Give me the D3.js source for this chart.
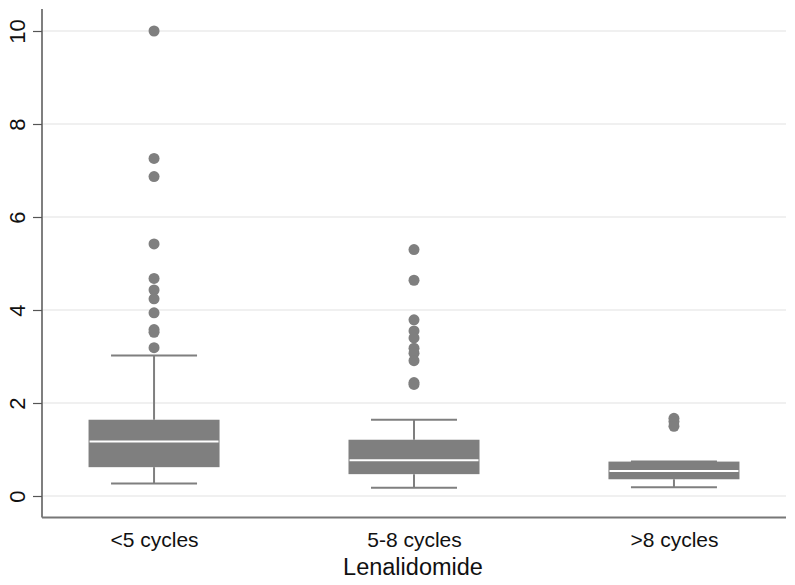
<!DOCTYPE html>
<html><head><meta charset="utf-8">
<script src="https://cdn.jsdelivr.net/npm/d3@7"></script>
<style>body{margin:0;background:#fff}svg{display:block}</style>
</head><body>
<svg id="c" width="795" height="585"></svg>
<script>
const categories = ["<5 cycles", "5-8 cycles", ">8 cycles"];
const whiskerLow = [0.27, 0.18, 0.19];
const q1 = [0.62, 0.47, 0.36];
const median = [1.17, 0.77, 0.54];
const q3 = [1.64, 1.21, 0.74];
const whiskerHigh = [3.02, 1.64, 0.74];
const outliers = [
  [10.0, 7.26, 6.87, 5.42, 4.68, 4.43, 4.24, 3.94, 3.58, 3.52, 3.19],
  [5.30, 4.64, 3.79, 3.55, 3.40, 3.18, 3.07, 2.91, 2.44, 2.40],
  [1.67, 1.60, 1.50]
];
const yTicks = [0, 2, 4, 6, 8, 10];
const xTitle = "Lenalidomide";

const svg = d3.select("#c");
const mLeft = 42, mRight = 786, mTop = 5, mBottom = 517.5;
const y = d3.scaleLinear().domain([0, 10]).range([496, 31]);
const x = d3.scalePoint().domain(categories).range([mLeft, mRight]).padding(0.431);
const boxW = 131, capW = 86;
const grey = "#7f7f7f";
const font = "'Liberation Sans', Arial, sans-serif";

// gridlines
svg.append("g").selectAll("line").data(yTicks).join("line")
  .attr("x1", mLeft + 1).attr("x2", mRight)
  .attr("y1", d => y(d)).attr("y2", d => y(d))
  .attr("stroke", "#ebebeb").attr("stroke-width", 1.3);

// y axis
const yAxis = svg.append("g").attr("transform", `translate(${mLeft},0)`)
  .call(d3.axisLeft(y).tickValues(yTicks).tickSize(9).tickSizeOuter(0).tickFormat(d3.format("d")));
yAxis.select(".domain").attr("stroke", "#555").attr("stroke-width", 1.5)
  .attr("d", `M0,${mTop + 4}V${mBottom}`);
yAxis.selectAll(".tick line").attr("stroke", "#555").attr("stroke-width", 1.2);
yAxis.selectAll(".tick text").attr("font-family", font).attr("font-size", 22).attr("fill", "#111")
  .attr("x", null).attr("dy", null).attr("text-anchor", "middle")
  .attr("transform", "translate(-17,0) rotate(-90)");

// x axis
const xAxis = svg.append("g").attr("transform", `translate(0,${mBottom})`)
  .call(d3.axisBottom(x).tickSize(0).tickPadding(0));
xAxis.select(".domain").attr("stroke", "#777").attr("stroke-width", 2)
  .attr("d", `M${mLeft},0H${mRight}`);
xAxis.selectAll(".tick text").attr("font-family", font).attr("font-size", 21).attr("fill", "#111")
  .attr("dy", null).attr("y", 29);

svg.append("text").attr("x", (mLeft + mRight) / 2 - 1).attr("y", 575)
  .attr("text-anchor", "middle").attr("font-family", font).attr("font-size", 23.5)
  .attr("fill", "#111").text(xTitle);

const data = categories.map((c, i) => ({c, lo: whiskerLow[i], q1: q1[i], med: median[i], q3: q3[i], hi: whiskerHigh[i], out: outliers[i]}));
const g = svg.append("g").selectAll("g").data(data).join("g")
  .attr("transform", d => `translate(${x(d.c)},0)`);

// whiskers
g.append("line").attr("x1", 0).attr("x2", 0).attr("y1", d => y(d.hi)).attr("y2", d => y(d.q3))
  .attr("stroke", grey).attr("stroke-width", 2);
g.append("line").attr("x1", 0).attr("x2", 0).attr("y1", d => y(d.q1)).attr("y2", d => y(d.lo))
  .attr("stroke", grey).attr("stroke-width", 2);
g.append("line").attr("x1", -capW / 2).attr("x2", capW / 2).attr("y1", d => y(d.hi)).attr("y2", d => y(d.hi))
  .attr("stroke", grey).attr("stroke-width", 2);
g.append("line").attr("x1", -capW / 2).attr("x2", capW / 2).attr("y1", d => y(d.lo)).attr("y2", d => y(d.lo))
  .attr("stroke", grey).attr("stroke-width", 2);
// box
g.append("rect").attr("x", -boxW / 2).attr("width", boxW)
  .attr("y", d => y(d.q3)).attr("height", d => y(d.q1) - y(d.q3)).attr("fill", grey);
g.append("line").attr("x1", -boxW / 2 + 1).attr("x2", boxW / 2 - 1)
  .attr("y1", d => y(d.med)).attr("y2", d => y(d.med)).attr("stroke", "#fff").attr("stroke-width", 2);
// outliers
g.selectAll("circle").data(d => d.out).join("circle")
  .attr("cx", 0).attr("cy", v => y(v)).attr("r", 5.5).attr("fill", grey);
</script>
</body></html>
